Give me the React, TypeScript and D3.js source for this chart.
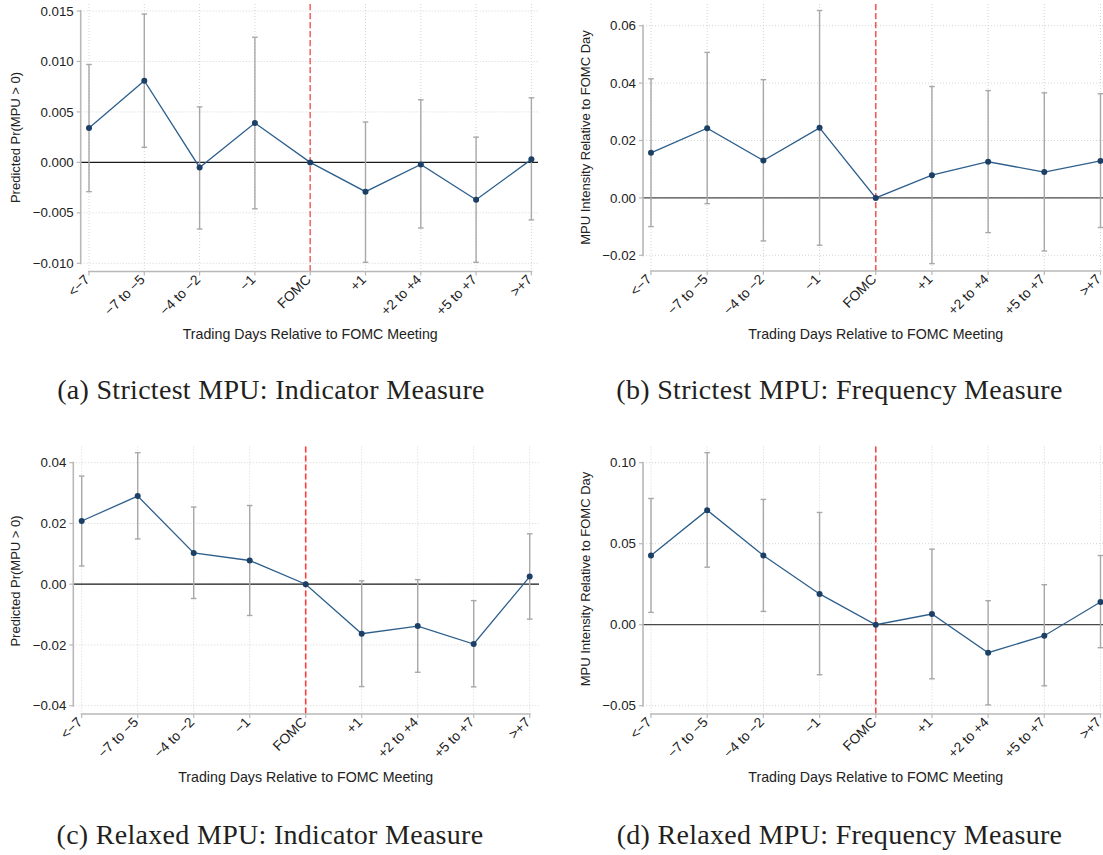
import React from "react";
import * as d3 from "d3";

const categories = ["<\u22127", "\u22127 to \u22125", "\u22124 to \u22122", "\u22121", "FOMC", "+1", "+2 to +4", "+5 to +7", ">+7"];

// (a) Strictest MPU: Indicator
const aEst = [0.0034, 0.0081, -0.0005, 0.0039, 0, -0.0029, -0.0002, -0.0037, 0.0003];
const aLo = [-0.0029, 0.0015, -0.0066, -0.0046, 0, -0.0099, -0.0065, -0.0099, -0.0057];
const aHi = [0.0097, 0.0147, 0.0055, 0.0124, 0, 0.0040, 0.0062, 0.0025, 0.0064];
const aTicks = [-0.01, -0.005, 0, 0.005, 0.01, 0.015];

// (b) Strictest MPU: Frequency
const bEst = [0.0157, 0.0243, 0.0130, 0.0244, 0, 0.0079, 0.0126, 0.0090, 0.0129];
const bLo = [-0.0100, -0.0020, -0.0150, -0.0165, 0, -0.0229, -0.0121, -0.0185, -0.0103];
const bHi = [0.0415, 0.0507, 0.0412, 0.0653, 0, 0.0388, 0.0374, 0.0366, 0.0363];
const bTicks = [-0.02, 0, 0.02, 0.04, 0.06];

// (c) Relaxed MPU: Indicator
const cEst = [0.0208, 0.0290, 0.0103, 0.0078, 0, -0.0163, -0.0138, -0.0197, 0.0025];
const cLo = [0.0060, 0.0149, -0.0047, -0.0103, 0, -0.0337, -0.0290, -0.0338, -0.0115];
const cHi = [0.0356, 0.0433, 0.0254, 0.0259, 0, 0.0011, 0.0015, -0.0054, 0.0166];
const cTicks = [-0.04, -0.02, 0, 0.02, 0.04];

// (d) Relaxed MPU: Frequency
const dEst = [0.0427, 0.0707, 0.0427, 0.0190, 0, 0.0066, -0.0173, -0.0068, 0.0140];
const dLo = [0.0076, 0.0355, 0.0082, -0.0309, 0, -0.0334, -0.0495, -0.0377, -0.0142];
const dHi = [0.0779, 0.1062, 0.0773, 0.0693, 0, 0.0466, 0.0148, 0.0247, 0.0427];
const dTicks = [-0.05, 0, 0.05, 0.1];

const yTitles = ["Predicted Pr(MPU > 0)", "MPU Intensity Relative to FOMC Day", "Predicted Pr(MPU > 0)", "MPU Intensity Relative to FOMC Day"];
const xTitle = "Trading Days Relative to FOMC Meeting";
const captions = ["(a) Strictest MPU: Indicator Measure", "(b) Strictest MPU: Frequency Measure", "(c) Relaxed MPU: Indicator Measure", "(d) Relaxed MPU: Frequency Measure"];

const SANS = "'Liberation Sans', Arial, Helvetica, sans-serif";
const SERIF = "'Liberation Serif', 'DejaVu Serif', serif";

const fmt = (d: number, dec: number) => {
  const s = Math.abs(d).toFixed(dec);
  return (d < -1e-12 ? "\u2212" : "") + s;
};

type Layout = {
  yAxisX: number; x0: number; x1: number; right: number;
  top: number; axisY: number; tickTopPx: number; tickBotPx: number;
  yTitleX: number; yTitleY: number; xTitleY: number; capX: number; capY: number;
  zeroColor: string; redColor: string; dec: number;
};

function Panel({ L, est, lo, hi, ticks, yTitle, caption }: { L: Layout; est: number[]; lo: number[]; hi: number[]; ticks: number[]; yTitle: string; caption: string }) {
  const x = d3.scalePoint<string>().domain(categories).range([L.x0, L.x1]);
  const y = d3.scaleLinear().domain([ticks[0], ticks[ticks.length - 1]]).range([L.tickBotPx, L.tickTopPx]);
  const line = d3.line<number>().x((_, i) => x(categories[i]) as number).y((v) => y(v));
  const fomcX = x("FOMC") as number;
  const capW = 2.8;
  return (
    <g>
      {ticks.map((t, i) => (
        <line key={"hg" + i} x1={L.yAxisX} x2={L.right} y1={y(t)} y2={y(t)} stroke="#d4d4d4" strokeWidth={1} strokeDasharray="1,2" />
      ))}
      {categories.map((c, i) => (
        <line key={"vg" + i} x1={x(c)} x2={x(c)} y1={L.top} y2={L.axisY} stroke="#d4d4d4" strokeWidth={1} strokeDasharray="1,2" />
      ))}
      <line x1={L.yAxisX} x2={L.right} y1={y(0)} y2={y(0)} stroke={L.zeroColor} strokeWidth={1.3} />
      {categories.map((c, i) => i === 4 ? null : (
        <g key={"eb" + i} stroke="#a8a8a8" strokeWidth={1.4}>
          <line x1={x(c)} x2={x(c)} y1={y(lo[i])} y2={y(hi[i])} />
          <line x1={(x(c) as number) - capW} x2={(x(c) as number) + capW} y1={y(lo[i])} y2={y(lo[i])} />
          <line x1={(x(c) as number) - capW} x2={(x(c) as number) + capW} y1={y(hi[i])} y2={y(hi[i])} />
        </g>
      ))}
      <line x1={fomcX} x2={fomcX} y1={L.top} y2={L.axisY} stroke={L.redColor} strokeWidth={1.6} strokeDasharray="6,3" />
      <path d={line(est) || ""} fill="none" stroke="#2e5f8c" strokeWidth={1.3} />
      {est.map((v, i) => (
        <circle key={"pt" + i} cx={x(categories[i])} cy={y(v)} r={3} fill="#1c3f66" />
      ))}
      <line x1={L.yAxisX} x2={L.yAxisX} y1={L.tickTopPx - 1} y2={L.tickBotPx + 1} stroke="#b8b8b8" strokeWidth={1.6} />
      {ticks.map((t, i) => (
        <g key={"yt" + i}>
          <line x1={L.yAxisX - 4} x2={L.yAxisX} y1={y(t)} y2={y(t)} stroke="#b8b8b8" strokeWidth={1.2} />
          <text x={L.yAxisX - 7} y={y(t)} dy="0.35em" textAnchor="end" fontFamily={SANS} fontSize={13.3} fill="#222">{fmt(t, L.dec)}</text>
        </g>
      ))}
      <line x1={L.x0 - 1} x2={L.x1 + 1} y1={L.axisY} y2={L.axisY} stroke="#b8b8b8" strokeWidth={1.6} />
      {categories.map((c, i) => (
        <g key={"xt" + i}>
          <line x1={x(c)} x2={x(c)} y1={L.axisY} y2={L.axisY + 4} stroke="#b8b8b8" strokeWidth={1.2} />
          <text transform={`translate(${(x(c) as number) + 1.5},${L.axisY + 9}) rotate(-45)`} textAnchor="end" fontFamily={SANS} fontSize={13.8} fill="#222">{c}</text>
        </g>
      ))}
      <text transform={`translate(${L.yTitleX},${L.yTitleY}) rotate(-90)`} textAnchor="middle" fontFamily={SANS} fontSize={13} fill="#222">{yTitle}</text>
      <text x={fomcX} y={L.xTitleY} textAnchor="middle" fontFamily={SANS} fontSize={14.2} fill="#222">{xTitle}</text>
      <text x={L.capX} y={L.capY} textAnchor="middle" fontFamily={SERIF} fontSize={28} letterSpacing={0.3} fill="#231f20">{caption}</text>
    </g>
  );
}

const layoutA: Layout = { yAxisX: 80.7, x0: 89, x1: 531.4, right: 538, top: 4, axisY: 271.5, tickTopPx: 11, tickBotPx: 263.3, yTitleX: 20, yTitleY: 137.5, xTitleY: 339, capX: 271, capY: 399, zeroColor: "#1a1a1a", redColor: "#f26a6a", dec: 3 };
const layoutB: Layout = { yAxisX: 643, x0: 651, x1: 1100.5, right: 1103, top: 4, axisY: 271, tickTopPx: 25.7, tickBotPx: 255.3, yTitleX: 589.5, yTitleY: 137.5, xTitleY: 339, capX: 839.5, capY: 399, zeroColor: "#4a4a4a", redColor: "#f05a5a", dec: 2 };
const layoutC: Layout = { yAxisX: 73.3, x0: 81.7, x1: 529.7, right: 539, top: 446.5, axisY: 714, tickTopPx: 462.7, tickBotPx: 705.7, yTitleX: 20, yTitleY: 581, xTitleY: 782, capX: 270, capY: 844, zeroColor: "#1a1a1a", redColor: "#ff3b3b", dec: 2 };
const layoutD: Layout = { yAxisX: 643, x0: 651, x1: 1100.5, right: 1103, top: 446.5, axisY: 714, tickTopPx: 462.7, tickBotPx: 705.7, yTitleX: 589.5, yTitleY: 579, xTitleY: 782, capX: 839.5, capY: 844, zeroColor: "#4a4a4a", redColor: "#f04848", dec: 2 };

export default function App() {
  return (
    <svg width={1103} height={855} style={{ position: "absolute", left: 0, top: 0, background: "#fff" }}>
      <Panel L={layoutA} est={aEst} lo={aLo} hi={aHi} ticks={aTicks} yTitle={yTitles[0]} caption={captions[0]} />
      <Panel L={layoutB} est={bEst} lo={bLo} hi={bHi} ticks={bTicks} yTitle={yTitles[1]} caption={captions[1]} />
      <Panel L={layoutC} est={cEst} lo={cLo} hi={cHi} ticks={cTicks} yTitle={yTitles[2]} caption={captions[2]} />
      <Panel L={layoutD} est={dEst} lo={dLo} hi={dHi} ticks={dTicks} yTitle={yTitles[3]} caption={captions[3]} />
    </svg>
  );
}
